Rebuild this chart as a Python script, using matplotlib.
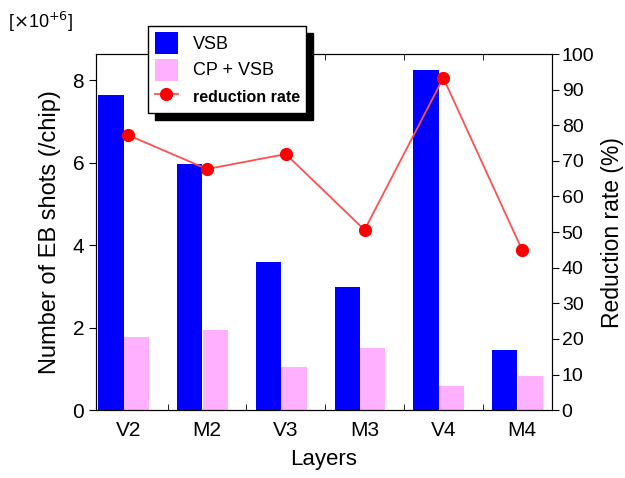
import matplotlib
matplotlib.use("Agg")
import matplotlib.pyplot as plt
import numpy as np

plt.rcParams['font.family'] = ['Liberation Sans', 'DejaVu Sans']

layers = ["V2", "M2", "V3", "M3", "V4", "M4"]
vsb = [7.64, 5.96, 3.59, 2.98, 8.24, 1.45]
cp_vsb = [1.77, 1.94, 1.04, 1.50, 0.58, 0.82]
reduction = [77.2, 67.7, 71.9, 50.6, 93.3, 45.0]

fig = plt.figure(figsize=(6.25, 4.78), dpi=100)
ax = fig.add_axes([0.1536, 0.142, 0.7296, 0.745])
x = np.arange(len(layers))
w = 0.32
b1 = ax.bar(x - 0.22, vsb, width=w, color='#0000ff', label='VSB')
b2 = ax.bar(x + 0.105, cp_vsb, width=w, color='#ffb0ff', label='CP + VSB')
ax.set_xlim(-0.41, 5.38)
ax.set_ylim(0, 8.63)
ax.set_yticks([0, 2, 4, 6, 8])
ax.set_xticks(x)
ax.set_xticklabels(layers, fontsize=15)
ax.set_xticks(x[:-1] + 0.5, minor=True)
ax.tick_params(axis='x', which='major', length=0, pad=8)
ax.tick_params(axis='x', which='minor', direction='in', length=4, top=True)
ax.tick_params(axis='y', labelsize=15, direction='out', length=5)
ax.set_ylabel("Number of EB shots (/chip)", fontsize=17, labelpad=8)
ax.set_xlabel("Layers", fontsize=16, labelpad=6)

ax2 = ax.twinx()
l1, = ax2.plot(x, reduction, color='#ff5050', lw=1.3, marker='o', markersize=8.5,
               markerfacecolor='#ff0000', markeredgecolor='#ff0000', label='reduction rate')
ax2.set_ylim(0, 100)
ax2.set_yticks(np.arange(0, 101, 10))
ax2.tick_params(axis='y', labelsize=14, direction='out', length=5, pad=2)
ax2.set_ylabel("Reduction rate (%)", fontsize=16.5, labelpad=5)

fig.text(0.012, 0.955, r"[$\times$10$^{+6}$]", fontsize=13, ha='left', va='center')

handles = [b1, b2, l1]
labels = ['VSB', 'CP + VSB', 'reduction rate']
leg = ax2.legend(handles, labels, loc='upper left', bbox_to_anchor=(0.095, 1.105),
                 frameon=True, fancybox=False, edgecolor='black', framealpha=1,
                 shadow={'color': 'black', 'alpha': 1, 'ox': 5, 'oy': -5},
                 fontsize=13, handlelength=1.3, handleheight=1.5, borderpad=0.35,
                 labelspacing=0.25, handletextpad=0.8)
leg.texts[2].set_fontsize(11.5)
leg.texts[2].set_fontweight('bold')

fig.savefig("out.png", dpi=100)
